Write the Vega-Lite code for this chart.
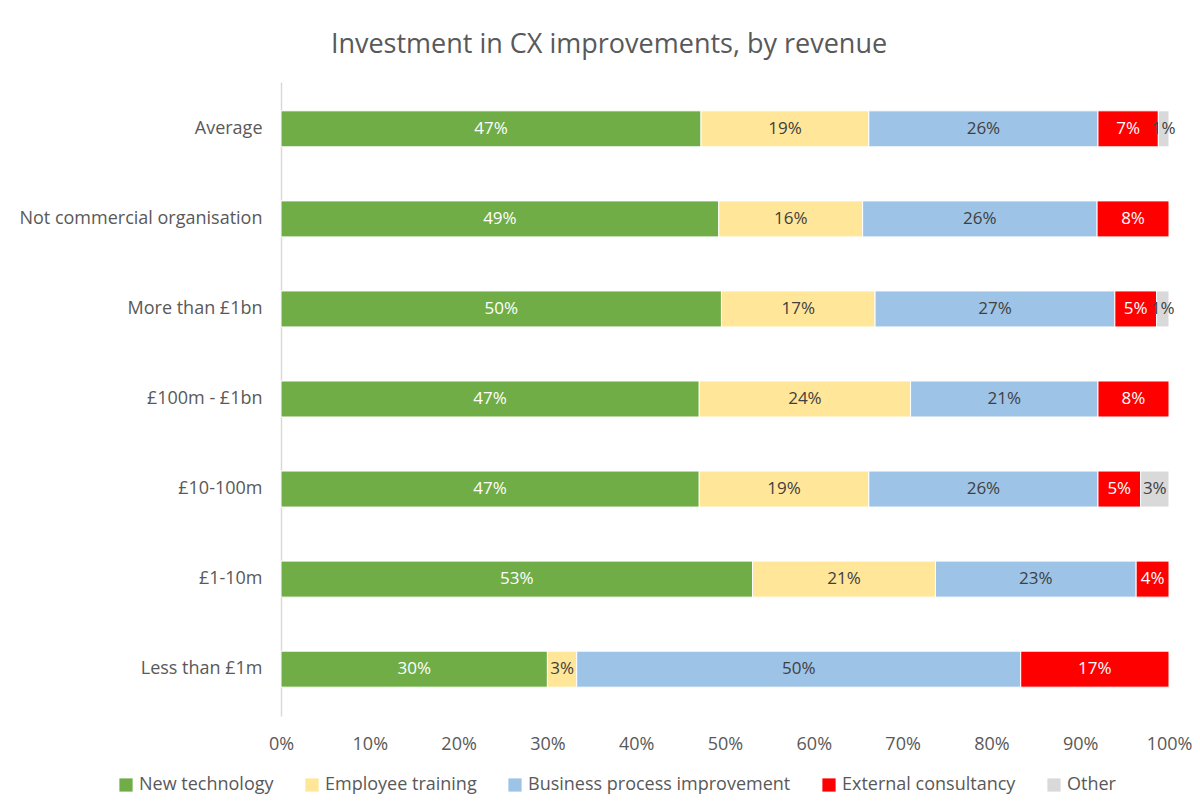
{
  "$schema": "https://vega.github.io/schema/vega-lite/v6.json",
  "width": 888,
  "height": 634,
  "autosize": {"type": "none"},
  "padding": {"left": 281, "top": 82, "right": 31, "bottom": 88},
  "background": "white",
  "title": {
    "text": "Investment in CX improvements, by revenue",
    "font": "Open Sans",
    "fontSize": 27,
    "fontWeight": "normal",
    "color": "#595959",
    "anchor": "middle",
    "dx": -116,
    "offset": 23
  },
  "config": {
    "view": {"stroke": null},
    "font": "Open Sans"
  },
  "data": {
    "values": [
      {"group": "Average", "category": "New technology", "share": 0.473},
      {"group": "Average", "category": "Employee training", "share": 0.189},
      {"group": "Average", "category": "Business process improvement", "share": 0.258},
      {"group": "Average", "category": "External consultancy", "share": 0.068},
      {"group": "Average", "category": "Other", "share": 0.012},
      {"group": "Not commercial organisation", "category": "New technology", "share": 0.493},
      {"group": "Not commercial organisation", "category": "Employee training", "share": 0.162},
      {"group": "Not commercial organisation", "category": "Business process improvement", "share": 0.264},
      {"group": "Not commercial organisation", "category": "External consultancy", "share": 0.081},
      {"group": "More than £1bn", "category": "New technology", "share": 0.496},
      {"group": "More than £1bn", "category": "Employee training", "share": 0.173},
      {"group": "More than £1bn", "category": "Business process improvement", "share": 0.270},
      {"group": "More than £1bn", "category": "External consultancy", "share": 0.047},
      {"group": "More than £1bn", "category": "Other", "share": 0.014},
      {"group": "£100m - £1bn", "category": "New technology", "share": 0.471},
      {"group": "£100m - £1bn", "category": "Employee training", "share": 0.238},
      {"group": "£100m - £1bn", "category": "Business process improvement", "share": 0.211},
      {"group": "£100m - £1bn", "category": "External consultancy", "share": 0.080},
      {"group": "£10-100m", "category": "New technology", "share": 0.471},
      {"group": "£10-100m", "category": "Employee training", "share": 0.191},
      {"group": "£10-100m", "category": "Business process improvement", "share": 0.258},
      {"group": "£10-100m", "category": "External consultancy", "share": 0.048},
      {"group": "£10-100m", "category": "Other", "share": 0.032},
      {"group": "£1-10m", "category": "New technology", "share": 0.531},
      {"group": "£1-10m", "category": "Employee training", "share": 0.206},
      {"group": "£1-10m", "category": "Business process improvement", "share": 0.226},
      {"group": "£1-10m", "category": "External consultancy", "share": 0.037},
      {"group": "Less than £1m", "category": "New technology", "share": 0.300},
      {"group": "Less than £1m", "category": "Employee training", "share": 0.033},
      {"group": "Less than £1m", "category": "Business process improvement", "share": 0.500},
      {"group": "Less than £1m", "category": "External consultancy", "share": 0.167}
    ]
  },
  "transform": [
    {"calculate": "indexof(['New technology', 'Employee training', 'Business process improvement', 'External consultancy', 'Other'], datum.category)", "as": "stackOrder"}
  ],
  "encoding": {
    "y": {
      "field": "group",
      "type": "nominal",
      "sort": ["Average", "Not commercial organisation", "More than £1bn", "£100m - £1bn", "£10-100m", "£1-10m", "Less than £1m"],
      "scale": {"paddingInner": 0.6, "paddingOuter": 0.32},
      "axis": {
        "title": null,
        "ticks": false,
        "domainColor": "#d9d9d9",
        "domainWidth": 1.5,
        "labelFont": "Open Sans",
        "labelFontSize": 18,
        "labelColor": "#595959",
        "labelPadding": 19,
        "labelLimit": 400
      }
    }
  },
  "layer": [
    {
      "mark": {"type": "bar", "stroke": "white", "strokeWidth": 1},
      "encoding": {
        "x": {
          "field": "share",
          "type": "quantitative",
          "stack": "zero",
          "scale": {"domain": [0, 1], "nice": false},
          "axis": {
            "title": null,
            "format": ".0%",
            "values": [0, 0.1, 0.2, 0.3, 0.4, 0.5, 0.6, 0.7, 0.8, 0.9, 1],
            "grid": false,
            "domain": false,
            "ticks": false,
            "labelFont": "Open Sans",
            "labelFontSize": 18,
            "labelColor": "#595959",
            "labelPadding": 19,
            "labelFlush": false
          }
        },
        "color": {
          "field": "category",
          "type": "nominal",
          "sort": ["New technology", "Employee training", "Business process improvement", "External consultancy", "Other"],
          "scale": {
            "domain": ["New technology", "Employee training", "Business process improvement", "External consultancy", "Other"],
            "range": ["#70ad47", "#ffe699", "#9dc3e6", "#ff0000", "#d9d9d9"]
          },
          "legend": {
            "title": null,
            "orient": "none",
            "legendX": -164,
            "legendY": 694,
            "direction": "horizontal",
            "columns": 5,
            "symbolType": "square",
            "symbolSize": 175,
            "symbolStrokeWidth": 0,
            "labelFont": "Open Sans",
            "labelFontSize": 18,
            "labelColor": "#595959",
            "labelLimit": 400,
            "columnPadding": 29,
            "labelOffset": 4
          }
        },
        "order": {"field": "stackOrder", "type": "quantitative", "sort": "ascending"}
      }
    },
    {
      "mark": {"type": "text", "font": "Open Sans", "fontSize": 17, "baseline": "middle", "align": "center"},
      "encoding": {
        "x": {"field": "share", "type": "quantitative", "stack": "zero", "bandPosition": 0.5},
        "text": {"field": "share", "type": "quantitative", "format": ".0%"},
        "color": {
          "field": "category",
          "type": "nominal",
          "sort": ["New technology", "Employee training", "Business process improvement", "External consultancy", "Other"],
          "scale": {
            "domain": ["New technology", "Employee training", "Business process improvement", "External consultancy", "Other"],
            "range": ["#ffffff", "#404040", "#404040", "#ffffff", "#404040"]
          },
          "legend": null
        },
        "order": {"field": "stackOrder", "type": "quantitative", "sort": "ascending"}
      }
    }
  ],
  "resolve": {"scale": {"color": "independent"}}
}
